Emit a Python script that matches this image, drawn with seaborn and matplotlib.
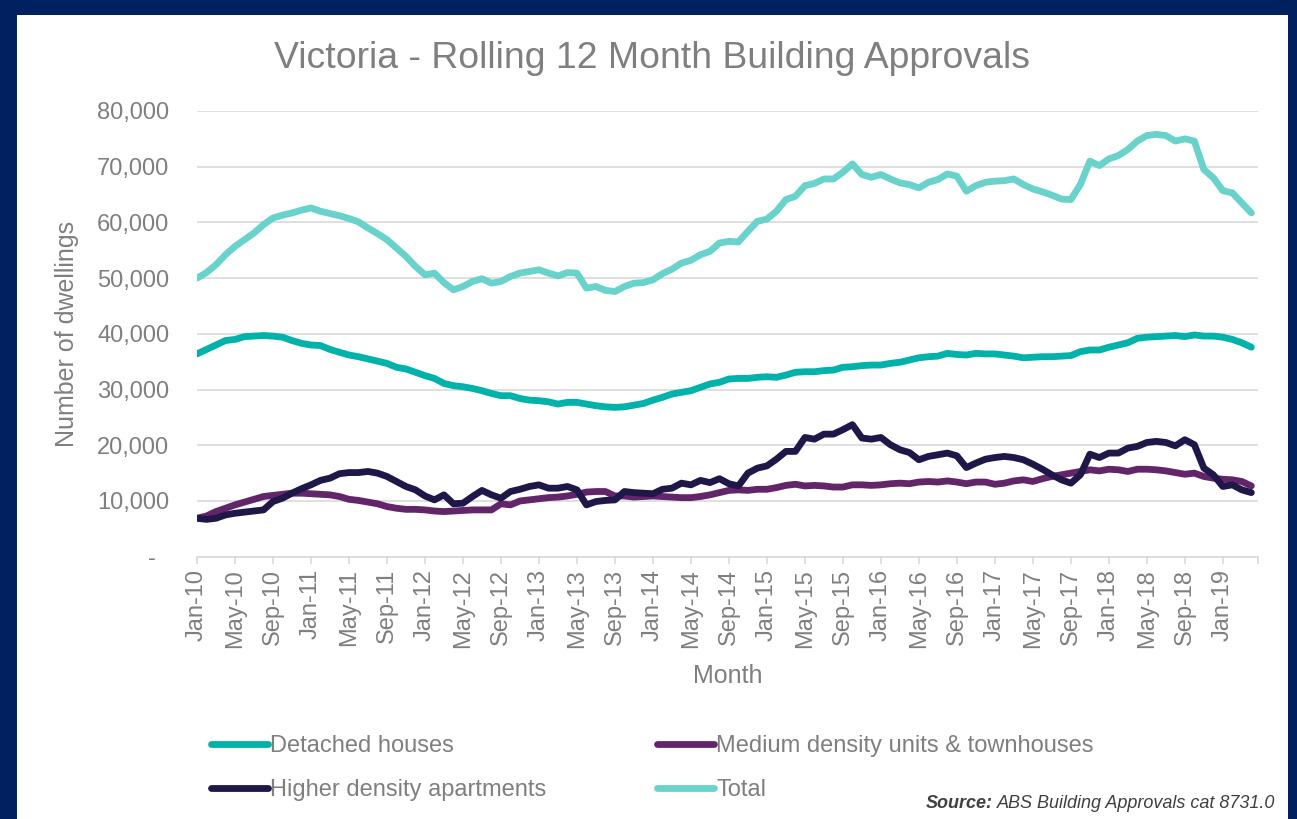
import pandas as pd
import numpy as np
import matplotlib
matplotlib.use("Agg")
import matplotlib.pyplot as plt
from matplotlib.patches import Rectangle
import seaborn as sns

# monthly, Jan-10 .. Apr-19
months = pd.date_range("2010-01-01", "2019-04-01", freq="MS")

detached = [36400, 37200, 38000, 38800, 39000, 39500, 39600, 39700, 39600, 39400,
            38800, 38300, 38000, 37900, 37200, 36700, 36200, 35900, 35500, 35100,
            34700, 34000, 33700, 33100, 32500, 32000, 31100, 30700, 30500, 30200,
            29800, 29300, 28900, 28900, 28400, 28100, 28000, 27800, 27400, 27700,
            27700, 27400, 27100, 26900, 26800, 26900, 27200, 27500, 28100, 28600,
            29200, 29500, 29800, 30400, 31000, 31300, 31900, 32000, 32000, 32200,
            32300, 32200, 32600, 33100, 33200, 33200, 33400, 33500, 34000, 34100,
            34300, 34400, 34400, 34700, 34900, 35300, 35700, 35900, 36000, 36500,
            36300, 36200, 36500, 36400, 36400, 36200, 36000, 35700, 35800, 35900,
            35900, 36000, 36100, 36800, 37100, 37100, 37600, 38000, 38400, 39200,
            39400, 39500, 39600, 39700, 39500, 39800, 39600, 39600, 39400, 39000,
            38400, 37600]

medium = [6900, 7300, 8100, 8700, 9300, 9800, 10300, 10800, 11000, 11200,
          11400, 11400, 11300, 11200, 11100, 10800, 10300, 10100, 9800, 9500,
          9000, 8700, 8500, 8500, 8400, 8200, 8100, 8200, 8300, 8400,
          8400, 8400, 9500, 9300, 10000, 10200, 10400, 10600, 10700, 10900,
          11200, 11600, 11700, 11700, 10900, 10900, 10700, 10800, 10900, 10800,
          10700, 10600, 10600, 10800, 11100, 11500, 11900, 12000, 11900, 12100,
          12100, 12400, 12800, 13000, 12700, 12800, 12700, 12500, 12500, 12900,
          12900, 12800, 12900, 13100, 13200, 13100, 13400, 13500, 13400, 13600,
          13400, 13100, 13400, 13400, 13000, 13200, 13600, 13800, 13500, 14000,
          14400, 14700, 15000, 15300, 15600, 15400, 15700, 15600, 15300, 15700,
          15700, 15600, 15400, 15100, 14800, 15000, 14400, 14100, 13900, 13800,
          13500, 12700]

higher = [6900, 6700, 6900, 7500, 7800, 8000, 8200, 8400, 9900, 10500,
          11400, 12200, 12900, 13700, 14100, 14900, 15100, 15100, 15300, 15000,
          14400, 13500, 12600, 12000, 10900, 10200, 11100, 9500, 9600, 10800,
          11900, 11100, 10500, 11700, 12100, 12600, 12900, 12300, 12300, 12600,
          12000, 9300, 9900, 10100, 10200, 11700, 11500, 11400, 11300, 12100,
          12300, 13200, 12900, 13700, 13300, 14000, 13100, 12700, 15000, 15900,
          16300, 17500, 18900, 18900, 21400, 21100, 22000, 22000, 22800, 23700,
          21300, 21100, 21400, 20100, 19200, 18700, 17400, 18000, 18300, 18600,
          18100, 16000, 16800, 17500, 17800, 18000, 17800, 17400, 16600, 15700,
          14700, 13800, 13200, 14700, 18400, 17800, 18600, 18600, 19500, 19800,
          20500, 20700, 20500, 19900, 21000, 20100, 15900, 14700, 12600, 12900,
          12000, 11500]

total = [50000, 51000, 52400, 54200, 55700, 56900, 58100, 59600, 60800, 61300,
         61700, 62200, 62600, 62000, 61600, 61200, 60700, 60100, 59000, 58000,
         56900, 55400, 53900, 52100, 50600, 50900, 49200, 47900, 48500, 49400,
         49900, 49100, 49400, 50300, 50900, 51200, 51500, 50900, 50400, 51000,
         50900, 48200, 48500, 47800, 47600, 48500, 49100, 49200, 49700, 50800,
         51600, 52700, 53200, 54200, 54800, 56300, 56600, 56500, 58400, 60200,
         60600, 62000, 64100, 64700, 66600, 67000, 67800, 67800, 69000, 70500,
         68600, 68100, 68600, 67800, 67100, 66800, 66200, 67200, 67700, 68700,
         68300, 65600, 66600, 67200, 67400, 67500, 67800, 66800, 66000, 65500,
         64900, 64200, 64100, 66800, 71000, 70200, 71400, 72000, 73100, 74600,
         75600, 75800, 75600, 74600, 75000, 74600, 69500, 68000, 65700, 65300,
         63500, 61700]

series_names = ["Detached houses", "Medium density units & townhouses",
                "Higher density apartments", "Total"]
colors = ["#00B2A9", "#63256A", "#1F1748", "#68D2CB"]

tick_labels = [m.strftime("%b-%y") for m in months[::4]]

df = pd.DataFrame({
    "idx": np.tile(np.arange(len(months)), 4),
    "value": detached + medium + higher + total,
    "series": np.repeat(series_names, len(months)),
})

sns.set_style("white")
plt.rcParams["font.family"] = ["Liberation Sans", "DejaVu Sans"]

grey = "#7F7F7F"
gridc = "#D9D9D9"

fig = plt.figure(figsize=(12.97, 8.19), dpi=100, facecolor="#002060")
fig.patches.append(Rectangle((17 / 1297, 0), (1288 - 17) / 1297, (819 - 15) / 819,
                             transform=fig.transFigure, facecolor="white",
                             edgecolor="none", zorder=-1))

ax = fig.add_axes([197 / 1297, 1 - 556.7 / 819, (1258 - 197) / 1297, (556.7 - 111) / 819])
ax.set_zorder(1)
ax.set_facecolor("white")

sns.lineplot(data=df, x="idx", y="value", hue="series", hue_order=series_names,
             palette=colors, linewidth=4.9, legend=False, ax=ax)
for ln in ax.lines:
    ln.set_solid_capstyle("round")
    ln.set_solid_joinstyle("round")

xmax = 111.7
ax.set_xlim(0, xmax)
ax.set_ylim(0, 80000)
ax.set_xticks(np.arange(0, len(months), 4))
ax.set_xticklabels(tick_labels, rotation=90)
ax.set_xticks([xmax], minor=True)
ax.set_yticks(np.arange(0, 80001, 10000))
ax.set_yticklabels(["-  "] + [f"{v:,}" for v in range(10000, 80001, 10000)])

ax.grid(axis="y", color=gridc, linewidth=1.2)
ax.set_axisbelow(True)
for s in ["left", "right", "top"]:
    ax.spines[s].set_visible(False)
ax.spines["bottom"].set_color(gridc)
ax.spines["bottom"].set_linewidth(1.2)
ax.tick_params(axis="x", which="both", length=5, width=1.2, color=gridc,
               labelcolor=grey, labelsize=17, pad=4, direction="out", bottom=True)
ax.tick_params(axis="y", length=0, labelcolor=grey, labelsize=17, pad=20)

ax.set_xlabel("Month", fontsize=18, color=grey)
ax.xaxis.set_label_coords(0.5, (556.7 - 676) / 445.7)
ax.xaxis.label.set_verticalalignment("center")
ax.set_ylabel("Number of dwellings", fontsize=18, color=grey)
ax.yaxis.set_label_coords((67 - 197) / 1061, 0.5)
ax.yaxis.label.set_verticalalignment("center")

fig.text(652 / 1297, 1 - 59 / 819, "Victoria - Rolling 12 Month Building Approvals",
         ha="center", va="center", fontsize=26.9, color=grey)

lines = ax.lines
order = [0, 2, 1, 3]
fig.legend([lines[i] for i in order], [series_names[i] for i in order],
           ncol=2, loc="upper left", bbox_to_anchor=(211 / 1297, 1 - 735 / 819),
           frameon=False, fontsize=17, labelcolor=grey, handlelength=2.4,
           handletextpad=0.1, columnspacing=4.7, labelspacing=0.95,
           borderpad=0, borderaxespad=0)

src = fig.text(1275 / 1297, 1 - 804 / 819, "ABS Building Approvals cat 8731.0",
               ha="right", va="center", fontsize=13, style="italic", color="#404040")
renderer = fig.canvas.get_renderer()
bb = src.get_window_extent(renderer)
fig.text((bb.x0 - 4) / 1297, 1 - 804 / 819, "Source:", ha="right", va="center",
         fontsize=13, style="italic", weight="bold", color="#404040")

fig.savefig("out.png", dpi=100, facecolor=fig.get_facecolor())
